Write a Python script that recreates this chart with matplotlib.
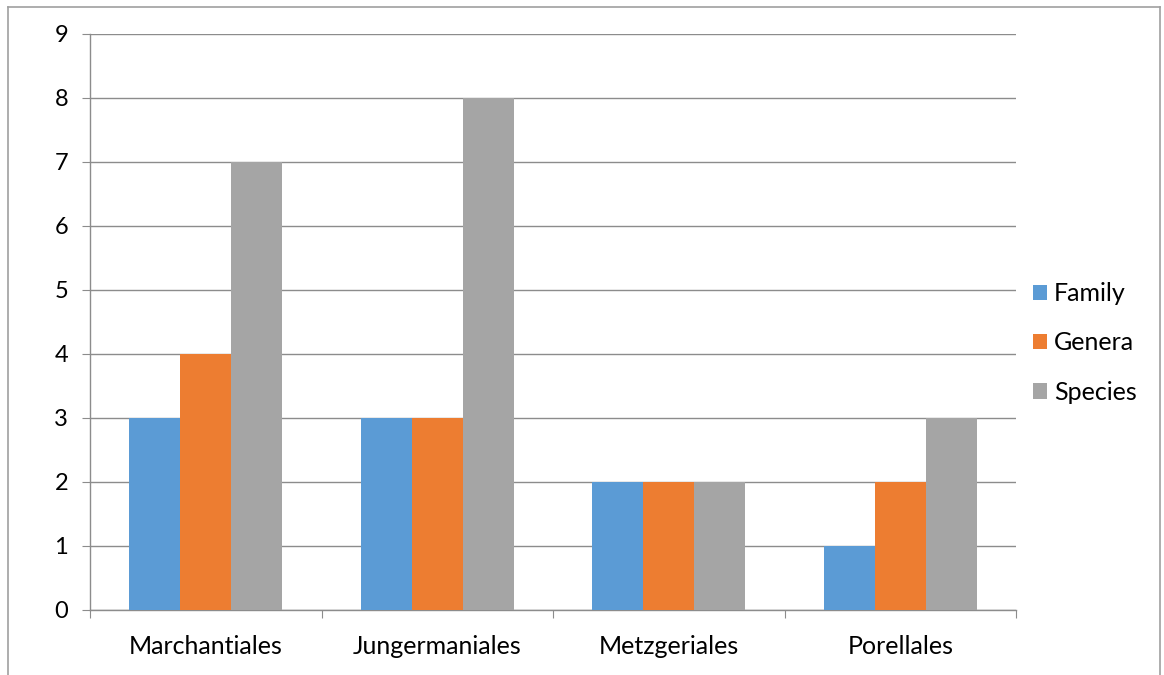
import matplotlib
matplotlib.use("Agg")
import matplotlib.pyplot as plt
import numpy as np
from matplotlib.patches import Patch
from matplotlib.lines import Line2D

categories = ["Marchantiales", "Jungermaniales", "Metzgeriales", "Porellales"]
series_names = ["Family", "Genera", "Species"]
family = [3, 3, 2, 1]
genera = [4, 3, 2, 2]
species = [7, 8, 2, 3]
y_ticks = [0, 1, 2, 3, 4, 5, 6, 7, 8, 9]

colors = ["#5B9BD5", "#ED7D31", "#A5A5A5"]
grid_c = "#8C8C8C"

plt.rcParams['font.family'] = ['Lato', 'DejaVu Sans']

W, H = 1164, 675
fig = plt.figure(figsize=(W / 100, H / 100), dpi=100)
ax = fig.add_axes([90 / W, 1 - 610 / H, (1016 - 90) / W, (610 - 34) / H])

x = np.arange(len(categories))
bw = 0.22
for i, (vals, c) in enumerate(zip([family, genera, species], colors)):
    ax.bar(x + (i - 1) * bw, vals, width=bw, color=c, zorder=3, label=series_names[i])

ax.set_xlim(-0.5, len(categories) - 0.5)
ax.set_ylim(0, 9)
ax.set_yticks(y_ticks)
ax.set_yticklabels([str(v) for v in y_ticks], fontsize=17)
ax.yaxis.grid(True, color=grid_c, linewidth=1, zorder=0)
ax.tick_params(axis='y', length=5.8, color=grid_c, pad=10)

ax.set_xticks(np.arange(len(categories) + 1) - 0.5)
ax.set_xticklabels([])
ax.set_xticks(x, minor=True)
ax.set_xticklabels(categories, minor=True, fontsize=18)
ax.tick_params(axis='x', which='major', length=5.8, color=grid_c)
ax.tick_params(axis='x', which='minor', length=0, pad=18)

for s in ['top', 'right']:
    ax.spines[s].set_visible(False)
for s in ['left', 'bottom']:
    ax.spines[s].set_color(grid_c)
    ax.spines[s].set_linewidth(1)

handles = [Patch(facecolor=c, edgecolor='none') for c in colors]
leg = fig.legend(handles, series_names, loc='center left',
                 bbox_to_anchor=(1010 / W, 1 - 343 / H), frameon=False,
                 fontsize=18, handlelength=0.57, handleheight=0.57,
                 handletextpad=0.3, labelspacing=1.05)

# outer chart border
border_c = "#A0A0A0"
fig.add_artist(Line2D([8 / W, 1160 / W], [1 - 7 / H, 1 - 7 / H], color=border_c, lw=1.2, transform=fig.transFigure))
fig.add_artist(Line2D([8 / W, 8 / W], [0, 1 - 7 / H], color=border_c, lw=1.2, transform=fig.transFigure))
fig.add_artist(Line2D([1160 / W, 1160 / W], [0, 1 - 7 / H], color=border_c, lw=1.2, transform=fig.transFigure))

fig.savefig("out.png", dpi=100)
